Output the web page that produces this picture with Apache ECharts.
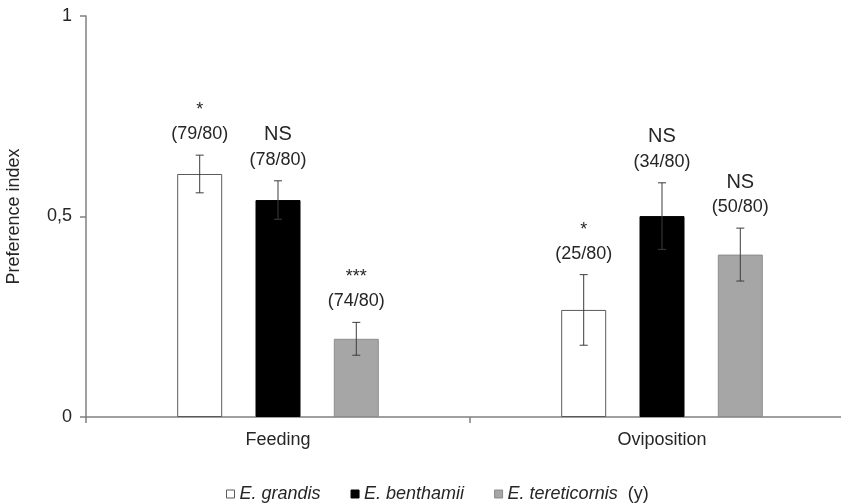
<!DOCTYPE html>
<html>
<head>
<meta charset="utf-8">
<script src="https://cdn.jsdelivr.net/npm/echarts@6/dist/echarts.min.js"></script>
<style>html,body{margin:0;padding:0;background:#fff}#c{width:841px;height:503px}</style>
</head>
<body>
<div id="c"></div>
<script>
const categories = ['Feeding', 'Oviposition'];
const seriesNames = ['E. grandis', 'E. benthamii', 'E. tereticornis (y)'];
const valGrandis = [0.606, 0.267];
const valBenthamii = [0.541, 0.501];
const valTereticornis = [0.195, 0.405];
const errGrandis = [0.047, 0.088];
const errBenthamii = [0.048, 0.083];
const errTereticornis = [0.041, 0.066];
const sigGrandis = ['*', '*'];
const sigBenthamii = ['NS', 'NS'];
const sigTereticornis = ['***', 'NS'];
const cntGrandis = ['(79/80)', '(25/80)'];
const cntBenthamii = ['(78/80)', '(34/80)'];
const cntTereticornis = ['(74/80)', '(50/80)'];
const yTicks = [0, 0.5, 1];
const yTickLabels = ['0', '0,5', '1'];

const values = [valGrandis, valBenthamii, valTereticornis];
const errs = [errGrandis, errBenthamii, errTereticornis];
const sigs = [sigGrandis, sigBenthamii, sigTereticornis];
const cnts = [cntGrandis, cntBenthamii, cntTereticornis];

const FONT = "'Liberation Sans', Arial, sans-serif";
const TXT = '#262626';
const BAR_W = 45;
const BAR_GAP = 0.74;
const fills = ['#ffffff', '#000000', '#a6a6a6'];
const borders = ['#5a5a5a', '#000000', '#8c8c8c'];

const errData = [];
for (let s = 0; s < 3; s++) {
  for (let i = 0; i < categories.length; i++) {
    errData.push([i, values[s][i] - errs[s][i], values[s][i] + errs[s][i], s, sigs[s][i], cnts[s][i]]);
  }
}

const chart = echarts.init(document.getElementById('c'), null, {renderer: 'canvas'});
const barSeries = seriesNames.map((n, s) => ({
  name: n,
  type: 'bar',
  data: values[s],
  barWidth: BAR_W,
  barGap: (BAR_GAP * 100) + '%',
  itemStyle: {color: fills[s], borderColor: borders[s], borderWidth: 1},
  emphasis: {disabled: true},
  z: 2
}));

chart.setOption({
  animation: false,
  backgroundColor: '#fff',
  grid: {left: 86, right: -13, top: 16, bottom: 86, containLabel: false, outerBoundsMode: 'none'},
  legend: {
    left: 221, top: 480,
    itemWidth: 8, itemHeight: 8, itemGap: 30,
    data: seriesNames.map((n, s) => ({name: n, icon: 'rect', itemStyle: {color: fills[s], borderColor: borders[s], borderWidth: 1}})),
    formatter: function (name) {
      const m = name.match(/^(.*?)\s*(\(y\))?$/);
      return m[2] ? '{i|' + m[1] + '}  {n|' + m[2] + '}' : '{i|' + m[1] + '}';
    },
    textStyle: {
      fontFamily: FONT, fontSize: 18, color: TXT,
      rich: {
        i: {fontFamily: FONT, fontSize: 18, fontStyle: 'italic', color: TXT},
        n: {fontFamily: FONT, fontSize: 18, color: TXT}
      }
    }
  },
  xAxis: {
    type: 'category',
    data: categories,
    axisLine: {lineStyle: {color: '#808080', width: 1.5}},
    axisTick: {show: true, length: 6, lineStyle: {color: '#808080', width: 1.5}},
    axisLabel: {fontFamily: FONT, fontSize: 18, color: TXT, margin: 14}
  },
  yAxis: {
    type: 'value',
    min: 0, max: 1, interval: 0.5,
    name: 'Preference index',
    nameLocation: 'middle',
    nameRotate: 90,
    nameGap: 63,
    nameTextStyle: {fontFamily: FONT, fontSize: 18, color: TXT},
    splitLine: {show: false},
    axisLine: {show: true, lineStyle: {color: '#808080', width: 1.5}},
    axisTick: {show: true, length: 6, lineStyle: {color: '#808080', width: 1.5}},
    axisLabel: {
      fontFamily: FONT, fontSize: 18, color: TXT, margin: 14,
      formatter: function (v) { const k = yTicks.indexOf(v); return k >= 0 ? yTickLabels[k] : ''; }
    }
  },
  series: barSeries.concat([{
    type: 'custom',
    name: 'err',
    z: 5,
    silent: true,
    data: errData,
    encode: {x: 0, y: [1, 2]},
    renderItem: function (params, api) {
      const i = api.value(0);
      const s = api.value(3);
      const cx = api.coord([i, 0])[0] + (s - 1) * BAR_W * (1 + BAR_GAP);
      const yLo = api.coord([i, api.value(1)])[1];
      const yHi = api.coord([i, api.value(2)])[1];
      const sig = errData[params.dataIndex][4];
      const cnt = errData[params.dataIndex][5];
      const st = {stroke: '#3c3c3c', lineWidth: 1};
      const cap = 4;
      const isNS = sig === 'NS';
      return {
        type: 'group',
        children: [
          {type: 'line', shape: {x1: cx, y1: yLo, x2: cx, y2: yHi}, style: st},
          {type: 'line', shape: {x1: cx - cap, y1: yLo, x2: cx + cap, y2: yLo}, style: st},
          {type: 'line', shape: {x1: cx - cap, y1: yHi, x2: cx + cap, y2: yHi}, style: st},
          {type: 'text', x: cx, y: yHi - 21, style: {text: cnt, fontFamily: FONT, fontSize: 18, fill: TXT, align: 'center', verticalAlign: 'middle'}},
          {type: 'text', x: cx, y: yHi - (isNS ? 46 : 45), style: {text: sig, fontFamily: FONT, fontSize: isNS ? 20 : 18, fill: TXT, align: 'center', verticalAlign: 'middle'}}
        ]
      };
    }
  }])
});
</script>
</body>
</html>
